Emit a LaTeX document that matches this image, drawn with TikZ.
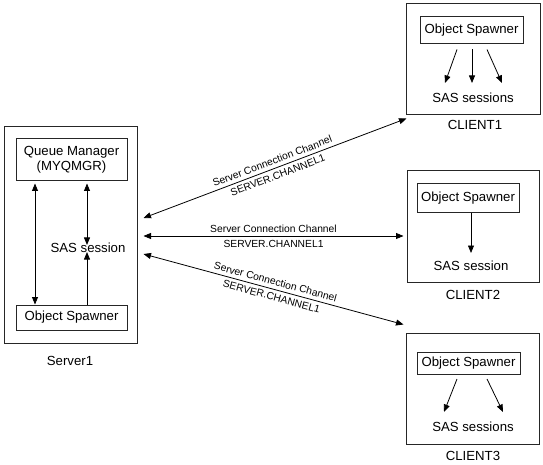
\documentclass[tikz,border=0pt]{standalone}
\usepackage{fontspec}
\setmainfont{Liberation Sans}
\usetikzlibrary{arrows.meta}
\begin{document}
\begin{tikzpicture}[x=1pt,y=-1pt,
  box/.style={draw=black!85,line width=1pt,inner sep=0pt},
  txt/.style={font=\fontsize{13.2}{15.5}\selectfont,inner sep=1pt,align=center},
  chan/.style={font=\fontsize{10.3}{12}\selectfont,inner sep=3.5pt},
  arr/.style={line width=0.8pt,-{Triangle[length=7.5pt,width=6pt]}},
  darr/.style={line width=0.8pt,{Triangle[length=7.5pt,width=6pt]}-{Triangle[length=7.5pt,width=6pt]}}]
\useasboundingbox (0,0) rectangle (543,465);
% Server
\node[box,minimum width=133pt,minimum height=216pt] (srv) at (70.5,235) {};
\node[box,txt,minimum width=111pt,minimum height=42pt] (qm) at (71.5,160) {Queue Manager\\(MYQMGR)};
\node[box,txt,minimum width=111pt,minimum height=25pt] (sos) at (71.5,317.5) {Object Spawner};
\node[txt] (sas) at (88,248) {SAS session};
\node[txt] (srvl) at (70,361) {Server1};
\draw[darr] ([xshift=-36.5pt,yshift=-2pt]qm.south) -- ([xshift=-36.5pt]sos.north);
\draw[darr] ([xshift=15.5pt,yshift=-2pt]qm.south) -- ([xshift=-1pt,yshift=-3pt]sas.north);
\draw[arr] ([xshift=15.5pt]sos.north) -- ([xshift=-1pt,yshift=2pt]sas.south);
% Client1
\node[box,minimum width=134pt,minimum height=111pt] (c1) at (473,59.5) {};
\node[box,txt,minimum width=103pt,minimum height=27pt] (c1os) at (471.5,30.5) {Object Spawner};
\node[txt] (c1sas) at (473,98) {SAS sessions};
\node[txt] (c1l) at (475,125) {CLIENT1};
\draw[arr] ([xshift=-14.5pt,yshift=-5pt]c1os.south) -- ([xshift=-28pt,yshift=15pt]c1sas.center);
\draw[arr] ([xshift=0.5pt,yshift=-5pt]c1os.south) -- ([xshift=-1pt,yshift=15pt]c1sas.center);
\draw[arr] ([xshift=15.5pt,yshift=-5pt]c1os.south) -- ([xshift=29pt,yshift=15pt]c1sas.center);
% Client2
\node[box,minimum width=132pt,minimum height=111pt] (c2) at (473,226.5) {};
\node[box,txt,minimum width=102pt,minimum height=28pt] (c2os) at (468,198) {Object Spawner};
\node[txt] (c2sas) at (471,266) {SAS session};
\node[txt] (c2l) at (473,295) {CLIENT2};
\draw[arr] ([xshift=3pt]c2os.south) -- ([yshift=13pt]c2sas.center);
% Client3
\node[box,minimum width=133pt,minimum height=111pt] (c3) at (472.5,388.5) {};
\node[box,txt,minimum width=103pt,minimum height=22pt] (c3os) at (468.5,363.5) {Object Spawner};
\node[txt] (c3sas) at (473,427) {SAS sessions};
\node[txt] (c3l) at (473,456) {CLIENT3};
\draw[arr] ([xshift=-11.5pt,yshift=-4pt]c3os.south) -- ([xshift=-29pt,yshift=15pt]c3sas.center);
\draw[arr] ([xshift=18.5pt,yshift=-4pt]c3os.south) -- ([xshift=30pt,yshift=15pt]c3sas.center);
% Channels
\draw[darr] ([xshift=6pt,yshift=17pt]srv.east) -- ([xshift=1pt,yshift=-3pt]c1.south west)
  node[chan,midway,sloped,above] {Server Connection Channel}
  node[chan,midway,sloped,below] {SERVER.CHANNEL1};
\draw[darr] ([xshift=6pt,yshift=-1pt]srv.east) -- ([xshift=-3pt,yshift=-9.5pt]c2.west)
  node[chan,midway,above] {Server Connection Channel}
  node[chan,midway,below] {SERVER.CHANNEL1};
\draw[darr] ([xshift=6pt,yshift=-19pt]srv.east) -- ([xshift=-2pt,yshift=8pt]c3.north west)
  node[chan,midway,sloped,above] {Server Connection Channel}
  node[chan,midway,sloped,below] {SERVER.CHANNEL1};
\end{tikzpicture}
\end{document}
